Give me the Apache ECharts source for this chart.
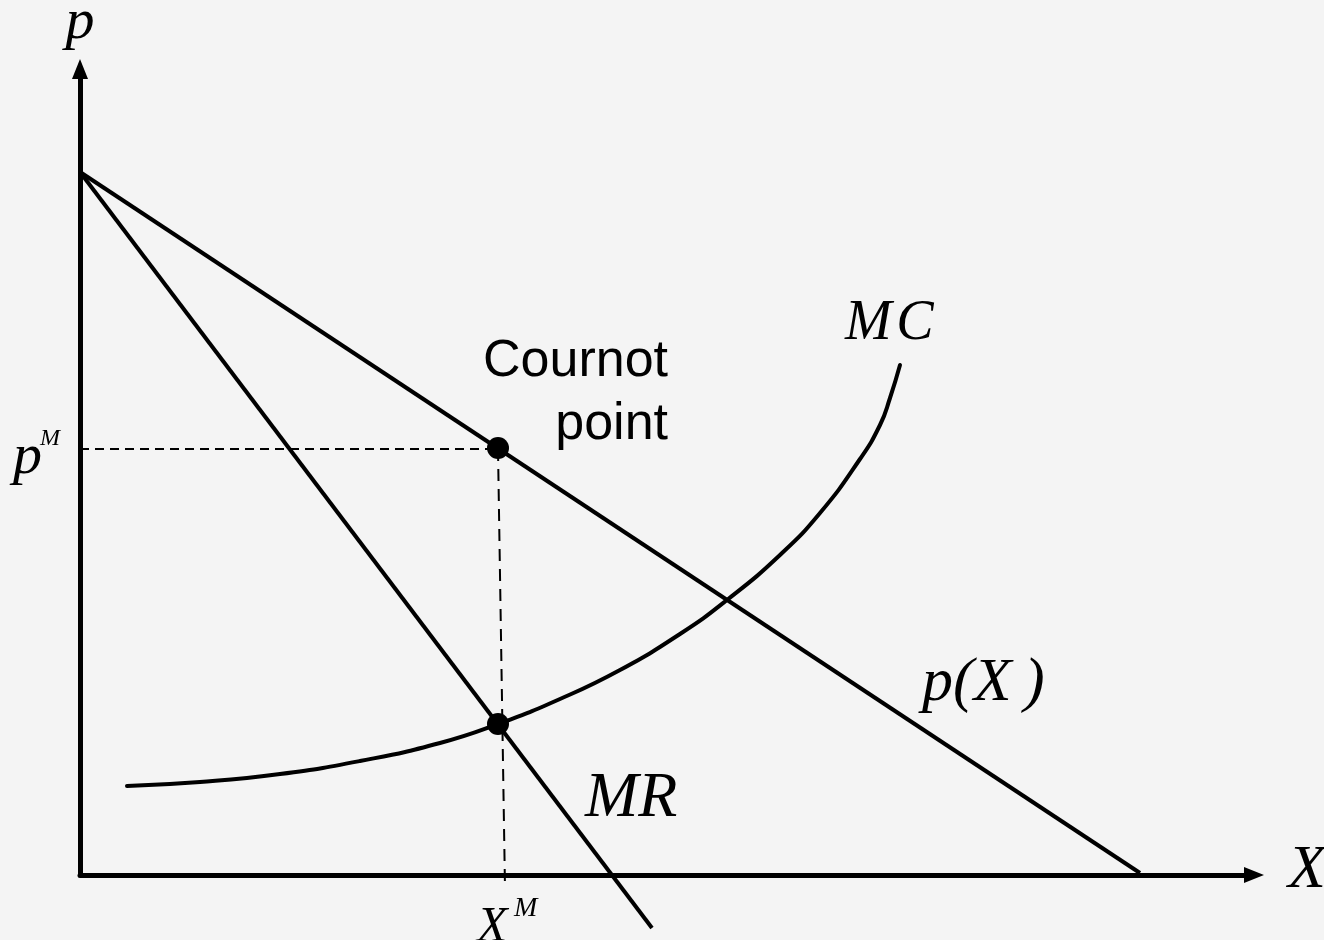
<!DOCTYPE html>
<html>
<head>
<meta charset="utf-8">
<title>Cournot point</title>
<script src="https://cdn.jsdelivr.net/npm/echarts@6/dist/echarts.min.js"></script>
<style>
  html, body { margin: 0; padding: 0; background: #f4f4f4; }
  #main { width: 1324px; height: 940px; }
</style>
</head>
<body>
<div id="main"></div>
<script>
// quantity / price (arbitrary units)
var demandX = [0, 1060];
var demandY = [703, 2];
var mrX = [0, 572];
var mrY = [703, -53];
var mcX = [47, 120, 200, 280, 360, 418, 480, 540, 600, 647, 700, 740, 780, 800, 810, 820];
var mcY = [89, 93, 101, 114, 132, 151, 176, 205, 241, 275, 320, 362, 416, 450, 477, 510];
var cournot = [418, 427];   // on p(X)
var mrEqMc = [418, 151];    // MR = MC
var pM = 426;
var xMFoot = [425, -13];

function zip(xs, ys) {
    return xs.map(function (x, i) { return [x, ys[i]]; });
}

var serif = '"Liberation Serif", "Times New Roman", serif';
var sans = '"Liberation Sans", Arial, sans-serif';

function note(x, y, text, size, extra) {
    var lab = {
        show: true,
        formatter: text,
        fontSize: size,
        fontFamily: serif,
        fontStyle: 'italic',
        color: '#000',
        opacity: 1,
        align: 'left',
        verticalAlign: 'middle',
        position: [0, 0]
    };
    if (extra) {
        for (var k in extra) lab[k] = extra[k];
    }
    return { value: [x, y], label: lab };
}

var black = '#000';

function axisCfg(max) {
    return {
        type: 'value',
        min: 0,
        max: max,
        axisLine: {
            show: true,
            onZero: false,
            symbol: ['none', 'triangle'],
            symbolSize: [16, 20],
            lineStyle: { color: black, width: 5 }
        },
        axisTick: { show: false },
        axisLabel: { show: false },
        splitLine: { show: false }
    };
}

var option = {
    backgroundColor: '#f4f4f4',
    animation: false,
    grid: { left: 80, right: 70, top: 69, bottom: 65 },
    xAxis: axisCfg(1174),
    yAxis: axisCfg(806),
    series: [
        {
            name: 'p(X)',
            type: 'line',
            clip: false,
            symbol: 'none',
            data: zip(demandX, demandY),
            lineStyle: { color: black, width: 4 }
        },
        {
            name: 'MR',
            type: 'line',
            clip: false,
            symbol: 'none',
            data: zip(mrX, mrY),
            lineStyle: { color: black, width: 4 }
        },
        {
            name: 'MC',
            type: 'line',
            clip: false,
            symbol: 'none',
            smooth: 0.5,
            data: zip(mcX, mcY),
            lineStyle: { color: black, width: 4, cap: 'round' }
        },
        {
            name: 'pM guide',
            type: 'line',
            clip: false,
            symbol: 'none',
            data: [[0, pM], [cournot[0], pM]],
            lineStyle: { color: black, width: 2, type: [9, 6] }
        },
        {
            name: 'XM guide',
            type: 'line',
            clip: false,
            symbol: 'none',
            data: [[cournot[0], pM], xMFoot],
            lineStyle: { color: black, width: 2, type: [12, 8] }
        },
        {
            name: 'points',
            type: 'scatter',
            clip: false,
            symbol: 'circle',
            symbolSize: 22,
            itemStyle: { color: black, opacity: 1 },
            z: 5,
            data: [cournot, mrEqMc]
        },
        {
            name: 'labels',
            type: 'scatter',
            clip: false,
            symbolSize: 0,
            itemStyle: { color: 'transparent', opacity: 1 },
            z: 6,
            data: [
                note(0, 852, 'p', 58, { align: 'center' }),
                note(1208, 4, 'X', 62),
                note(765, 551, 'M\u200AC', 56),
                note(842, 191, 'p(X\u2009)', 62),
                note(505, 76, 'MR', 64),
                note(588, 482, 'Cournot\npoint', 52, {
                    fontFamily: sans, fontStyle: 'normal', align: 'right', lineHeight: 63
                }),
                note(-67, 417, 'p', 58),
                note(-40, 436, 'M', 24),
                note(397, -53, 'X', 50),
                note(434, -34, 'M', 28)
            ]
        }
    ]
};

var myChart = echarts.init(document.getElementById('main'));
myChart.setOption(option);
</script>
</body>
</html>
